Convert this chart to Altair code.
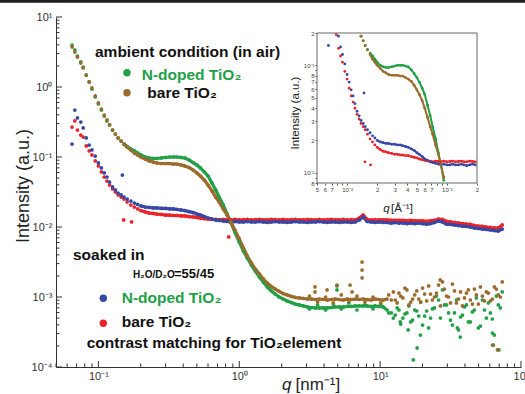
import altair as alt
import pandas as pd

FONT = "Liberation Sans"
GREEN, BROWN, BLUE, RED = "#22a047", "#9c6a2b", "#3548a6", "#eb2227"

# ---------------- data (q in nm^-1, intensity in a.u.) ----------------
q = [0.065, 0.068, 0.071, 0.075, 0.078, 0.082, 0.086, 0.09, 0.095, 0.10,
     0.105, 0.11, 0.115, 0.12, 0.126, 0.132, 0.138, 0.145, 0.152, 0.16,
     0.17, 0.18, 0.19, 0.20, 0.215, 0.23, 0.245, 0.26, 0.28, 0.30,
     0.32, 0.34, 0.36, 0.385, 0.41, 0.44, 0.47, 0.50, 0.53, 0.565,
     0.60, 0.64, 0.68, 0.72, 0.77, 0.82, 0.87, 0.93, 1.0, 1.07,
     1.14, 1.22, 1.30, 1.39, 1.48, 1.58, 1.69, 1.80, 1.92, 2.05,
     2.19, 2.34, 2.50, 2.67, 2.85, 3.05, 3.25, 3.47, 3.70, 3.95,
     4.22, 4.50, 4.80, 5.13, 5.47, 5.84, 6.23, 6.65, 7.10, 7.58,
     8.09, 8.63, 9.21, 9.83, 10.5, 11.2, 12.0, 12.8, 13.6, 14.5,
     15.5, 16.5, 17.6, 18.8, 20.0, 21.4, 22.8, 24.3, 26.0, 27.7,
     29.6, 31.6, 33.7, 36.0, 38.4, 41.0, 43.7, 46.7, 49.8, 53.2,
     56.8, 60.6, 64.7, 69.0, 73.6]

# ambient condition (in air)
green = [3.98, 3.38, 2.77, 2.28, 1.93, 1.48, 1.18, 0.936, 0.720, 0.572,
         0.469, 0.385, 0.327, 0.287, 0.243, 0.213, 0.187, 0.169, 0.153, 0.141,
         0.130, 0.122, 0.114, 0.107, 0.100, 0.0968, 0.0952, 0.0952, 0.0968, 0.0984,
         0.100, 0.100, 0.100, 0.0984, 0.0968, 0.0906, 0.0834, 0.0769, 0.0697, 0.0611,
         0.0535, 0.0425, 0.0338, 0.0268, 0.0206, 0.0153, 0.0118, 0.00848, 0.00611, 0.00454,
         0.00361, 0.00286, 0.00235, 0.00193, 0.00164, 0.00139, 0.00122, 0.00110, 0.00100, 0.000936,
         0.000877, 0.000834, 0.000794, 0.000769, 0.000744, 0.000720, 0.000708, 0.000697, 0.000697, 0.000697,
         0.000697, 0.000708, 0.000720, 0.000720, 0.000720, 0.000732, 0.000732, 0.000744, 0.000744, 0.000744,
         0.000744, 0.000732, 0.000744, 0.000732, 0.000720, 0.000652, 0.000591, 0.000553, 0.000652, 0.000501,
         0.000591, 0.000440, 0.000652, 0.000535, 0.000398, 0.000631, 0.000501, 0.000697, 0.000906, 0.00126,
         0.000769, 0.000469, 0.000591, 0.000338, 0.000553, 0.000769, 0.000440, 0.000652, 0.000361, 0.000906,
         0.000501, 0.000591, 0.000286, 0.000769, 0.00118]
brown = [3.73, 3.16, 2.68, 2.20, 1.87, 1.48, 1.18, 0.968, 0.744, 0.591,
         0.485, 0.398, 0.338, 0.287, 0.243, 0.213, 0.187, 0.169, 0.153, 0.139,
         0.126, 0.114, 0.107, 0.100, 0.0936, 0.0877, 0.0848, 0.0821, 0.0807, 0.0807,
         0.0807, 0.0794, 0.0794, 0.0769, 0.0744, 0.0708, 0.0652, 0.0591, 0.0535, 0.0469,
         0.0398, 0.0327, 0.0268, 0.0228, 0.0181, 0.0148, 0.0118, 0.00906, 0.00674, 0.00501,
         0.00385, 0.00306, 0.00251, 0.00213, 0.00181, 0.00158, 0.00141, 0.00130, 0.00120, 0.00112,
         0.00107, 0.00102, 0.000984, 0.000968, 0.000952, 0.000936, 0.000936, 0.000921, 0.000936, 0.000921,
         0.000906, 0.000921, 0.000936, 0.000921, 0.000906, 0.000936, 0.000921, 0.000936, 0.000921, 0.000936,
         0.000921, 0.000906, 0.000936, 0.000921, 0.000906, 0.000936, 0.000906, 0.000906, 0.00114, 0.000968,
         0.00126, 0.000848, 0.00107, 0.000936, 0.00134, 0.000877, 0.00110, 0.00100, 0.00148, 0.00164,
         0.00103, 0.000821, 0.00122, 0.000936, 0.000744, 0.00114, 0.000906, 0.00130, 0.000794, 0.00103,
         0.00118, 0.000877, 0.00139, 0.00107, 0.00164]

# soaked in H2O/D2O = 55/45
blue = [0.153, 0.469, 0.361, 0.316, 0.260, 0.187, 0.148, 0.126, 0.103, 0.0821,
        0.0697, 0.0591, 0.0518, 0.0439, 0.0373, 0.0338, 0.0306, 0.0287, 0.0268, 0.0251,
        0.0235, 0.0220, 0.0210, 0.0200, 0.0193, 0.0190, 0.0187, 0.0187, 0.0184, 0.0184,
        0.0181, 0.0181, 0.0178, 0.0175, 0.0172, 0.0166, 0.0161, 0.0153, 0.0148, 0.0141,
        0.0134, 0.0130, 0.0126, 0.0124, 0.0122, 0.0120, 0.0118, 0.0120, 0.0118, 0.0118,
        0.0120, 0.0118, 0.0118, 0.0120, 0.0118, 0.0116, 0.0118, 0.0120, 0.0118, 0.0118,
        0.0116, 0.0118, 0.0120, 0.0118, 0.0118, 0.0116, 0.0118, 0.0118, 0.0120, 0.0118,
        0.0116, 0.0118, 0.0118, 0.0116, 0.0118, 0.0118, 0.0116, 0.0118, 0.0126, 0.0139,
        0.0120, 0.0118, 0.0116, 0.0118, 0.0116, 0.0116, 0.0114, 0.0116, 0.0114, 0.0114,
        0.0112, 0.0114, 0.0112, 0.0114, 0.0112, 0.0110, 0.0112, 0.0116, 0.0122, 0.0118,
        0.0110, 0.0109, 0.0107, 0.0105, 0.0103, 0.0102, 0.0100, 0.00968, 0.00952, 0.00936,
        0.00921, 0.00906, 0.00891, 0.00877, 0.00936]
red = [0.268, 0.327, 0.243, 0.206, 0.193, 0.144, 0.122, 0.107, 0.0877, 0.0744,
       0.0611, 0.0518, 0.0454, 0.0398, 0.0349, 0.0316, 0.0287, 0.0268, 0.0251, 0.0228,
       0.0206, 0.0193, 0.0181, 0.0172, 0.0164, 0.0158, 0.0156, 0.0153, 0.0151, 0.0148,
       0.0148, 0.0146, 0.0146, 0.0144, 0.0144, 0.0141, 0.0139, 0.0137, 0.0134, 0.0132,
       0.0130, 0.0128, 0.0128, 0.0126, 0.0128, 0.0127, 0.0126, 0.0128, 0.0126, 0.0127,
       0.0128, 0.0126, 0.0127, 0.0128, 0.0126, 0.0126, 0.0128, 0.0127, 0.0126, 0.0128,
       0.0126, 0.0127, 0.0128, 0.0126, 0.0126, 0.0128, 0.0127, 0.0126, 0.0128, 0.0126,
       0.0127, 0.0128, 0.0126, 0.0126, 0.0128, 0.0126, 0.0127, 0.0126, 0.0134, 0.0148,
       0.0128, 0.0126, 0.0127, 0.0126, 0.0126, 0.0126, 0.0124, 0.0124, 0.0124, 0.0124,
       0.0122, 0.0124, 0.0122, 0.0122, 0.0122, 0.0120, 0.0122, 0.0124, 0.0130, 0.0128,
       0.0120, 0.0118, 0.0116, 0.0114, 0.0112, 0.0110, 0.0109, 0.0105, 0.0103, 0.0102,
       0.0100, 0.00984, 0.00968, 0.00968, 0.0107]

# isolated points
red_out_q = [0.151, 0.172, 0.842]
red_out_I = [0.0126, 0.0118, 0.00720]
blue_out_q = [0.148]
blue_out_I = [0.0553]

# extra scattered points of the noisy high-q floor
green_extra_q = [3.15, 3.6, 4.1, 4.65, 5.3, 6.0, 6.85, 7.8, 8.9, 10.1, 11.5,
                 12.4, 13.2, 14.0, 15.0, 16.0, 17.0, 18.2, 19.4, 20.7, 22.1, 23.5, 25.1,
                 26.8, 28.6, 30.6, 32.6, 34.8, 37.2, 39.7, 42.3, 45.2, 48.2, 51.5, 55.0,
                 58.7, 62.6, 66.8, 71.3,
                 4.94, 4.94, 17.2, 18.3, 19.3, 15.8, 13.9, 35.3, 37.1, 62.7, 69.7, 63.7]
green_extra_I = [0.000674, 0.000769, 0.000652, 0.000794, 0.000674, 0.000821, 0.000652, 0.000769,
                 0.000674, 0.000794, 0.000591,
                 0.000501, 0.000697, 0.000411, 0.000572, 0.000744, 0.000469, 0.000631, 0.000848,
                 0.000535, 0.000361, 0.000674, 0.00103, 0.000501, 0.000769, 0.000591, 0.000398,
                 0.000906, 0.000518, 0.000720, 0.000440, 0.000611, 0.000968, 0.000385, 0.000652,
                 0.000821, 0.000485, 0.00103, 0.000697,
                 0.00144, 0.00126, 0.000126, 0.000187, 0.000286, 0.000338, 0.000440, 0.000361,
                 0.000268, 0.000306, 0.000175, 0.000206]
brown_extra_q = [3.15, 3.6, 4.1, 4.65, 5.3, 6.0, 6.85, 7.8, 8.9, 10.1, 11.5,
                 12.4, 13.2, 14.0, 15.0, 16.0, 17.0, 18.2, 19.4, 20.7, 22.1, 23.5, 25.1,
                 26.8, 28.6, 30.6, 32.6, 34.8, 37.2, 39.7, 42.3, 45.2, 48.2, 51.5, 55.0,
                 58.7, 62.6, 66.8, 71.3,
                 7.44, 7.44, 7.44, 3.45, 3.45, 4.20, 4.94, 6.12, 6.32, 26.7, 62.7, 68.0]
brown_extra_I = [0.00103, 0.000848, 0.00100, 0.000821, 0.00107, 0.000877, 0.00103, 0.000848,
                 0.00100, 0.000821, 0.00107,
                 0.00118, 0.000821, 0.00103, 0.00134, 0.000769, 0.000936, 0.00122, 0.000848,
                 0.00110, 0.00144, 0.000906, 0.00114, 0.000744, 0.00130, 0.00100, 0.00153,
                 0.000821, 0.00118, 0.000968, 0.00126, 0.000794, 0.00107, 0.00139, 0.000877,
                 0.00114, 0.000936, 0.00130, 0.00100,
                 0.00316, 0.00243, 0.00187, 0.00139, 0.00118, 0.00126, 0.00148, 0.00148,
                 0.00118, 0.00175, 0.000206, 0.000175]

# axis ticks and labels
x_major = [0.1, 1, 10, 100]
x_major_labels = ["10⁻¹", "10⁰", "10¹", "10²"]
x_minor = [0.05, 0.06, 0.07, 0.08, 0.09, 0.2, 0.3, 0.4, 0.5, 0.6, 0.7, 0.8, 0.9,
           2, 3, 4, 5, 6, 7, 8, 9, 20, 30, 40, 50, 60, 70, 80, 90]
y_major = [1e-4, 1e-3, 1e-2, 1e-1, 1, 10]
y_major_labels = ["10⁻⁴", "10⁻³", "10⁻²", "10⁻¹", "10⁰", "10¹"]
y_minor = [m * d for d in [1e-4, 1e-3, 1e-2, 1e-1, 1] for m in range(2, 10)]

xi_ticks = [0.005, 0.006, 0.007, 0.008, 0.009, 0.01, 0.02, 0.03, 0.04, 0.05, 0.06,
            0.07, 0.08, 0.09, 0.1, 0.2]
xi_labels = ["5", "6", "7", "", "", "10⁻²", "2", "3", "4", "5", "6", "7", "", "", "10⁻¹", "2"]
yi_ticks = [0.008, 0.009, 0.01, 0.02, 0.03, 0.04, 0.05, 0.06, 0.07, 0.08, 0.09, 0.1, 0.2]
yi_labels = ["8", "", "10⁻²", "2", "3", "4", "5", "6", "7", "8", "", "10⁻¹", "2"]


def frame(qs, Is, name, kind):
    return pd.DataFrame({"q": qs, "I": Is, "s": name, "kind": kind})


df = pd.concat([
    frame(q, red, "red", "grid"), frame(red_out_q, red_out_I, "red", "extra"),
    frame(q, blue, "blue", "grid"), frame(blue_out_q, blue_out_I, "blue", "extra"),
    frame(q, green, "green", "grid"), frame(green_extra_q, green_extra_I, "green", "extra"),
    frame(q, brown, "brown", "grid"), frame(brown_extra_q, brown_extra_I, "brown", "extra"),
], ignore_index=True)


def label_expr(vals, labs):
    parts = [f"abs(datum.value - {v}) < {v * 1e-3} ? '{t}'" for v, t in zip(vals, labs)]
    return " : ".join(parts) + " : ''"


W, H = 465, 350
one = pd.DataFrame({"k": [0]})

xs = alt.Scale(type="log", domain=[0.05, 100], nice=False)
ys = alt.Scale(type="log", domain=[1e-4, 10], nice=False)
x_axis = alt.Axis(values=x_major, labelExpr=label_expr(x_major, x_major_labels), ticks=False,
                  grid=False, domainColor="#333", labelFont=FONT, labelFontSize=11,
                  labelColor="#333", labelPadding=3, labelFlush=False, labelOverlap=False,
                  title=None)
y_axis = alt.Axis(values=y_major, labelExpr=label_expr(y_major, y_major_labels), ticks=False,
                  grid=False, domainColor="#333", labelFont=FONT, labelFontSize=11,
                  labelColor="#333", labelPadding=4, labelFlush=False, labelOverlap=False,
                  title=None)
X = alt.X("q:Q", scale=xs, axis=x_axis)
Y = alt.Y("I:Q", scale=ys, axis=y_axis)
color = alt.Color("s:N", scale=alt.Scale(domain=["red", "blue", "green", "brown"],
                                         range=[RED, BLUE, GREEN, BROWN]), legend=None)


def text(txt, x, y, size=15.5, col="#111", weight="bold", style="normal", angle=0,
         align="left", baseline="alphabetic"):
    return alt.Chart(one).mark_text(text=txt, font=FONT, fontSize=size, fontWeight=weight,
                                    fontStyle=style, color=col, align=align,
                                    baseline=baseline, angle=angle).encode(
        x=alt.value(x), y=alt.value(y))


def dot(x, y, col):
    return alt.Chart(one).mark_circle(size=55, color=col, opacity=1).encode(
        x=alt.value(x), y=alt.value(y))


def xticks(vals, length):
    return alt.Chart(pd.DataFrame({"q": vals})).mark_rule(color="#333").encode(
        x=X, y=alt.value(H), y2=alt.value(H - length))


def yticks(vals, length):
    return alt.Chart(pd.DataFrame({"I": vals})).mark_rule(color="#333").encode(
        y=Y, x=alt.value(0), x2=alt.value(length))


def dense(name, qmin, qmax):
    return f"datum.s == '{name}' && datum.kind == 'grid' && datum.q >= {qmin} && datum.q <= {qmax}"


def band(name, col, qmin, qmax, width=3.2):
    # the densely sampled parts of each curve read as a continuous band
    return alt.Chart(df).transform_filter(dense(name, qmin, qmax)).mark_line(
        color=col, strokeWidth=width, opacity=1).encode(x=X, y=Y)


points = alt.Chart(df).mark_circle(size=14, opacity=1).encode(x=X, y=Y, color=color)

topbar = alt.Chart(one).mark_rect(color="#1e1e1e").encode(
    x=alt.value(-60), x2=alt.value(W + 10), y=alt.value(-17), y2=alt.value(-14.3))

main = alt.layer(
    topbar,
    xticks(x_major, 6), xticks(x_minor, 3.5), yticks(y_major, 6), yticks(y_minor, 3.5),
    band("red", RED, 0.2, 80), band("blue", BLUE, 0.2, 80),
    band("green", GREEN, 0.15, 11.5), band("brown", BROWN, 0.15, 11.5),
    points,
    text("ambient condition (in air)", 39, 39.5),
    dot(71, 55.7, GREEN), text("N-doped TiO₂", 85.7, 63, col=GREEN),
    dot(71, 75.7, BROWN), text("bare TiO₂", 91.3, 81.3),
    text("soaked in", 17, 243),
    text("H₂O/D₂O", 77, 260.7, size=10), text("=55/45", 118, 260.7, size=13),
    dot(47.3, 281.3, BLUE), text("N-doped TiO₂", 65.7, 286.3, col=GREEN),
    dot(47.3, 306.3, RED), text("bare TiO₂", 65.7, 309.7),
    text("contrast matching for TiO₂element", 30.7, 331.3),
    text("Intensity (a.u.)", -32, 169, size=18, col="#222", weight="normal", angle=270,
         align="center", baseline="middle"),
    text("q", 226, 372.5, size=17, col="#222", weight="normal", style="italic"),
    text("[nm⁻¹]", 239.5, 372.5, size=17, col="#222", weight="normal"),
)

# ---------------- inset (same data, q in Å^-1) ----------------
xi = alt.Scale(type="log", domain=[0.005, 0.2], range=[261, 421], nice=False)
yi = alt.Scale(type="log", domain=[0.008, 0.2], range=[166, 16], nice=False)
xi_axis = alt.Axis(orient="bottom", offset=-(H - 166), values=xi_ticks,
                   labelExpr=label_expr(xi_ticks, xi_labels), tickSize=2, tickColor="#555",
                   domain=False, grid=False, labelFont=FONT, labelFontSize=6,
                   labelColor="#444", labelPadding=1, labelFlush=False, labelOverlap=False,
                   title=None)
yi_axis = alt.Axis(orient="left", offset=-261, values=yi_ticks,
                   labelExpr=label_expr(yi_ticks, yi_labels), tickSize=2, tickColor="#555",
                   domain=False, grid=False, labelFont=FONT, labelFontSize=6,
                   labelColor="#444", labelPadding=1, labelFlush=False, labelOverlap=False,
                   title=None)
XI = alt.X("qA:Q", scale=xi, axis=xi_axis)
YI = alt.Y("I:Q", scale=yi, axis=yi_axis)
in_range = "datum.qA >= 0.005 && datum.qA <= 0.2 && datum.I >= 0.008 && datum.I <= 0.2"

box = pd.DataFrame({"x0": [0.005], "x1": [0.2], "y0": [0.008], "y1": [0.2]})
inset_frame = alt.Chart(box).mark_rect(fill="white", stroke="#666", strokeWidth=1).encode(
    x=alt.X("x0:Q", scale=xi, axis=xi_axis), x2="x1:Q",
    y=alt.Y("y0:Q", scale=yi, axis=yi_axis), y2="y1:Q")


def inset_band(name, col, qmin, qmax):
    return alt.Chart(df).transform_calculate(qA="datum.q / 10").transform_filter(
        in_range).transform_filter(dense(name, qmin, qmax)).mark_line(
        color=col, strokeWidth=2, opacity=1).encode(x=XI, y=YI)


inset_pts = alt.Chart(df).transform_calculate(qA="datum.q / 10").transform_filter(
    in_range).mark_circle(size=8, opacity=1).encode(x=XI, y=YI, color=color)

inset = alt.layer(
    inset_frame,
    inset_band("red", RED, 0.2, 3), inset_band("blue", BLUE, 0.2, 3),
    inset_band("green", GREEN, 0.17, 3), inset_band("brown", BROWN, 0.17, 3),
    inset_pts,
    text("Intensity (a.u.)", 240, 96, size=11.5, col="#222", weight="normal", angle=270,
         align="center", baseline="middle"),
    text("q", 327.3, 194.7, size=11.5, col="#222", weight="normal", style="italic"),
    text("[Å⁻¹]", 335, 194.7, size=11.5, col="#222", weight="normal"),
)

chart = alt.layer(main, inset).resolve_scale(x="independent", y="independent").properties(
    width=W, height=H, background="white",
    padding={"left": 56, "top": 17, "right": 4, "bottom": 27},
    autosize=alt.AutoSizeParams(type="none"),
).configure_view(stroke=None)

chart.save("out.html", embed_options={"renderer": "svg", "actions": False})
